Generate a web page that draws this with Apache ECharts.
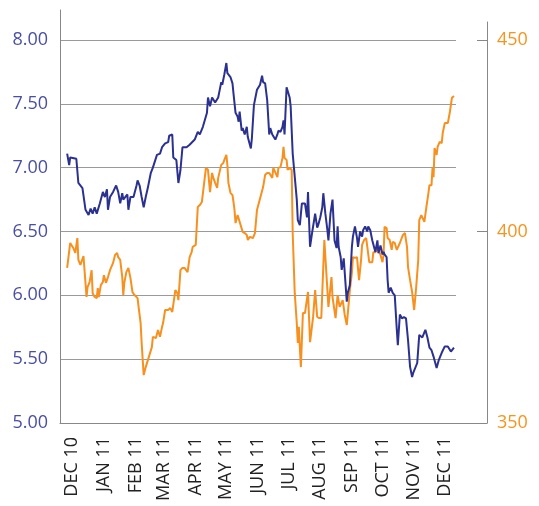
<!DOCTYPE html>
<html><head><meta charset="utf-8">
<script src="https://cdn.jsdelivr.net/npm/echarts@6/dist/echarts.min.js"></script>
<style>html,body{margin:0;padding:0;background:#fff}#c{width:539px;height:506px}</style>
</head><body><div id="c"></div>
<script>
const monthTicks = ['2010-12-01','2011-01-01','2011-02-01','2011-03-01','2011-04-01','2011-05-01','2011-06-01','2011-07-01','2011-08-01','2011-09-01','2011-10-01','2011-11-01','2011-12-01'];
const monthLabels = ['DEC 10','JAN 11','FEB 11','MAR 11','APR 11','MAY 11','JUN 11','JUL 11','AUG 11','SEP 11','OCT 11','NOV 11','DEC 11'];
const leftTicks = [5, 5.5, 6, 6.5, 7, 7.5, 8];
const rightLabelValues = [350, 400, 450];
const rightTickValues = [400, 450];

const navyDates = ['2010-11-26','2010-11-28','2010-11-29','2010-12-05','2010-12-07','2010-12-11','2010-12-14','2010-12-17','2010-12-19','2010-12-21','2010-12-23','2010-12-25','2010-12-28','2010-12-31',
'2011-01-02','2011-01-04','2011-01-05','2011-01-07','2011-01-10','2011-01-13','2011-01-15','2011-01-17','2011-01-19','2011-01-20','2011-01-24','2011-01-25','2011-01-27','2011-01-30',
'2011-02-02','2011-02-03','2011-02-05','2011-02-07','2011-02-09','2011-02-11','2011-02-13','2011-02-16','2011-02-18','2011-02-22','2011-02-25','2011-02-27',
'2011-03-02','2011-03-05','2011-03-06','2011-03-09','2011-03-10','2011-03-13','2011-03-15','2011-03-17','2011-03-19','2011-03-23','2011-03-26','2011-03-31',
'2011-04-03','2011-04-05','2011-04-08','2011-04-12','2011-04-13','2011-04-15','2011-04-17','2011-04-20','2011-04-23','2011-04-24','2011-04-26','2011-04-27','2011-04-29',
'2011-05-01','2011-05-02','2011-05-03','2011-05-05','2011-05-07','2011-05-08','2011-05-10','2011-05-12','2011-05-13','2011-05-14','2011-05-16','2011-05-17','2011-05-19','2011-05-21','2011-05-22','2011-05-25','2011-05-26','2011-05-28','2011-05-31',
'2011-06-03','2011-06-05','2011-06-06','2011-06-08','2011-06-10','2011-06-12','2011-06-13','2011-06-15','2011-06-18','2011-06-20','2011-06-21','2011-06-23','2011-06-25','2011-06-26','2011-06-27','2011-06-29',
'2011-07-02','2011-07-03','2011-07-05','2011-07-07','2011-07-09','2011-07-10','2011-07-12','2011-07-14','2011-07-17','2011-07-19','2011-07-20','2011-07-22','2011-07-24','2011-07-27','2011-07-29','2011-07-30',
'2011-08-01','2011-08-03','2011-08-04','2011-08-06','2011-08-08','2011-08-09','2011-08-11','2011-08-13','2011-08-15','2011-08-17','2011-08-18','2011-08-19','2011-08-21','2011-08-22','2011-08-24','2011-08-25','2011-08-27','2011-08-28','2011-08-30',
'2011-09-01','2011-09-02','2011-09-04','2011-09-06','2011-09-07','2011-09-09','2011-09-11','2011-09-12','2011-09-14','2011-09-16','2011-09-17','2011-09-19','2011-09-21','2011-09-22','2011-09-24','2011-09-26','2011-09-27','2011-09-29',
'2011-10-01','2011-10-02','2011-10-03','2011-10-05','2011-10-06','2011-10-07','2011-10-09','2011-10-11','2011-10-13','2011-10-15','2011-10-16','2011-10-17','2011-10-18','2011-10-20','2011-10-22','2011-10-24','2011-10-26','2011-10-28','2011-10-30','2011-10-31',
'2011-11-04','2011-11-06','2011-11-09','2011-11-12','2011-11-14','2011-11-16','2011-11-18','2011-11-20','2011-11-23','2011-11-25','2011-11-28',
'2011-12-01','2011-12-04','2011-12-07','2011-12-10'];
const navyValues = [7.11,7.02,7.08,7.07,6.88,6.84,6.67,6.63,6.68,6.64,6.69,6.64,6.72,6.81,
6.77,6.83,6.67,6.77,6.81,6.86,6.81,6.72,6.80,6.75,6.79,6.67,6.77,6.77,
6.86,6.90,6.86,6.77,6.69,6.77,6.84,6.96,7.00,7.10,7.11,7.16,
7.19,7.20,7.25,7.26,7.08,7.06,6.88,6.98,7.16,7.16,7.18,7.22,
7.28,7.26,7.32,7.43,7.55,7.48,7.55,7.51,7.55,7.59,7.67,7.65,7.73,
7.82,7.74,7.75,7.71,7.66,7.58,7.43,7.40,7.36,7.44,7.29,7.31,7.26,7.32,7.24,7.15,7.23,7.49,7.61,
7.65,7.72,7.67,7.66,7.53,7.26,7.31,7.26,7.22,7.26,7.29,7.28,7.32,7.37,7.26,7.63,
7.55,7.48,7.11,6.93,6.75,6.59,6.55,6.72,6.72,6.61,6.81,6.38,6.49,6.64,6.53,6.55,
6.61,6.69,6.80,6.64,6.51,6.43,6.64,6.75,6.43,6.37,6.54,6.38,6.30,6.20,6.29,6.28,5.95,6.02,6.08,
6.38,6.46,6.54,6.45,6.38,6.50,6.46,6.51,6.54,6.50,6.54,6.51,6.43,6.42,6.34,6.43,6.33,6.39,
6.32,6.34,6.32,6.30,6.12,6.02,6.06,6.02,6.00,5.73,5.61,5.61,5.85,5.82,5.83,5.82,5.65,5.44,5.36,5.39,
5.47,5.69,5.67,5.73,5.67,5.59,5.57,5.52,5.43,5.49,5.55,
5.60,5.60,5.56,5.59];

const orangeDates = ['2010-11-26','2010-11-29','2010-12-02','2010-12-04','2010-12-06','2010-12-07','2010-12-09','2010-12-12','2010-12-15','2010-12-16','2010-12-18','2010-12-20','2010-12-21','2010-12-23','2010-12-25','2010-12-26','2010-12-27','2010-12-29','2010-12-31',
'2011-01-01','2011-01-03','2011-01-05','2011-01-07','2011-01-10','2011-01-12','2011-01-14','2011-01-15','2011-01-17','2011-01-19','2011-01-20','2011-01-21','2011-01-23','2011-01-25','2011-01-27','2011-01-29','2011-01-31',
'2011-02-03','2011-02-04','2011-02-06','2011-02-07','2011-02-09','2011-02-11','2011-02-12','2011-02-14','2011-02-17','2011-02-18','2011-02-21','2011-02-23','2011-02-25','2011-02-27','2011-02-28',
'2011-03-02','2011-03-05','2011-03-07','2011-03-09','2011-03-12','2011-03-14','2011-03-15','2011-03-17','2011-03-19','2011-03-21','2011-03-24','2011-03-26','2011-03-28','2011-03-29',
'2011-04-01','2011-04-03','2011-04-05','2011-04-07','2011-04-11','2011-04-13','2011-04-15','2011-04-17','2011-04-18','2011-04-20','2011-04-22','2011-04-23','2011-04-26','2011-04-28','2011-04-29',
'2011-05-01','2011-05-02','2011-05-03','2011-05-05','2011-05-07','2011-05-08','2011-05-09','2011-05-10','2011-05-12','2011-05-13','2011-05-17','2011-05-19','2011-05-21','2011-05-22','2011-05-24','2011-05-27','2011-05-29','2011-05-31',
'2011-06-01','2011-06-06','2011-06-08','2011-06-10','2011-06-12','2011-06-15','2011-06-16','2011-06-20','2011-06-21','2011-06-23','2011-06-25','2011-06-26','2011-06-27','2011-06-29','2011-06-30',
'2011-07-02','2011-07-04','2011-07-05','2011-07-07','2011-07-09','2011-07-10','2011-07-11','2011-07-13','2011-07-15','2011-07-17','2011-07-20','2011-07-22','2011-07-25','2011-07-27','2011-07-29','2011-07-31',
'2011-08-02','2011-08-05','2011-08-09','2011-08-10','2011-08-12','2011-08-13','2011-08-16','2011-08-18','2011-08-20','2011-08-23','2011-08-25','2011-08-27','2011-08-30',
'2011-09-01','2011-09-02','2011-09-04','2011-09-06','2011-09-08','2011-09-10','2011-09-11','2011-09-13','2011-09-15','2011-09-18','2011-09-21','2011-09-22','2011-09-24','2011-09-27',
'2011-10-01','2011-10-02','2011-10-03','2011-10-05','2011-10-06','2011-10-08','2011-10-10','2011-10-11','2011-10-13','2011-10-15','2011-10-18','2011-10-21','2011-10-23','2011-10-25','2011-10-26','2011-10-28','2011-10-30',
'2011-11-01','2011-11-03','2011-11-05','2011-11-06','2011-11-08','2011-11-09','2011-11-11','2011-11-13','2011-11-15','2011-11-16','2011-11-18','2011-11-19','2011-11-20','2011-11-21','2011-11-23','2011-11-24','2011-11-26','2011-11-28','2011-11-29',
'2011-12-01','2011-12-04','2011-12-06','2011-12-08','2011-12-10'];
const orangeValues = [390.5,397.0,395.7,394.4,398.3,392.6,391.3,393.6,382.9,385.5,386.8,389.9,383.9,382.9,382.6,385.2,382.9,386.0,386.8,
388.6,386.6,388.1,389.9,391.8,393.9,394.4,393.3,392.6,388.1,383.4,386.6,389.4,390.5,387.9,384.2,383.4,
382.6,380.3,376.1,370.9,362.5,364.6,364.4,367.2,369.8,372.5,372.2,374.3,372.5,375.1,376.1,
379.5,379.5,380.0,379.0,384.7,383.9,382.1,389.9,390.5,390.5,389.4,393.3,394.6,396.0,
396.5,406.4,406.9,407.7,416.6,416.1,410.3,415.3,414.2,412.7,411.4,414.0,417.4,417.9,418.7,
420.0,417.4,412.7,410.1,409.5,407.7,405.6,402.2,404.3,404.8,399.9,399.6,399.1,397.8,398.6,398.3,399.6,405.6,
406.1,411.6,414.8,415.3,415.3,414.0,416.6,414.2,416.6,416.8,419.2,422.1,419.2,418.7,416.1,
416.6,416.1,399.6,383.9,376.1,370.9,375.1,364.6,378.7,378.7,384.2,371.1,377.7,384.7,377.7,377.4,
377.4,397.8,380.3,380.0,388.1,382.9,377.4,383.4,380.3,382.1,378.2,375.6,384.7,
389.2,393.3,393.1,393.3,387.3,392.6,396.5,397.8,398.3,392.0,392.0,394.6,394.6,395.7,
392.0,393.9,401.2,400.9,398.3,397.8,395.2,397.3,397.0,395.2,397.0,399.1,399.6,396.0,390.7,387.3,384.2,
379.5,385.5,392.6,403.0,404.3,404.3,402.5,406.4,410.1,412.1,412.1,416.6,414.2,421.8,420.0,422.1,423.4,423.1,425.7,
428.3,428.3,431.2,434.9,435.4];

function ts(s){ const p = s.split('-').map(Number); return Date.UTC(p[0], p[1]-1, p[2]); }
const monthTs = monthTicks.map(ts);
const navyData = navyDates.map((d,i)=>[ts(d), navyValues[i]]);
const orangeData = orangeDates.map((d,i)=>[ts(d), orangeValues[i]]);

const FONT = 'Open Sans';
const chart = echarts.init(document.getElementById('c'), null, {renderer:'canvas'});
chart.setOption({
  backgroundColor: '#ffffff',
  animation: false,
  grid: [
    {left: 60, right: 83, top: 40, bottom: 83},
    {left: 60, right: 52, top: 10, bottom: 83},
    {left: 60, right: 52, top: 22, bottom: 83}
  ],
  xAxis: [
    {gridIndex: 0, type: 'value', min: ts('2010-11-19'), max: ts('2011-12-12'),
     axisLine: {show: false}, axisTick: {show: false}, splitLine: {show: false},
     axisLabel: {customValues: monthTs, rotate: 90, margin: 14, color: '#222', fontSize: 18, fontFamily: FONT,
       formatter: function(v){ for (let i=0;i<monthTs.length;i++){ if (Math.abs(monthTs[i]-v) < 43200000) return monthLabels[i]; } return ''; }}},
    {gridIndex: 1, type: 'value', min: 0, max: 1, axisLine: {show: true, onZero: false, lineStyle: {color: '#888', width: 1}},
     axisTick: {show: false}, axisLabel: {show: false}, splitLine: {show: false}},
    {gridIndex: 2, type: 'value', min: 0, max: 1, show: false}
  ],
  yAxis: [
    {gridIndex: 0, type: 'value', min: 5, max: 8, interval: 0.5, position: 'left',
     axisLine: {show: false}, axisTick: {show: false},
     splitLine: {show: true, lineStyle: {color: '#9a9a9a', width: 1}},
     axisLabel: {margin: 12, color: '#4a4fa3', fontSize: 18, fontFamily: FONT, formatter: v => v.toFixed(2)}},
    {gridIndex: 0, type: 'value', min: 350, max: 450, interval: 50, show: false},
    {gridIndex: 1, type: 'value', min: 0, max: 1, position: 'left',
     axisLine: {show: true, onZero: false, lineStyle: {color: '#888', width: 1}}, axisTick: {show: false}, axisLabel: {show: false}, splitLine: {show: false}},
    {gridIndex: 2, type: 'value', min: 350, max: 454.7, interval: 50, position: 'right',
     axisLine: {show: true, onZero: false, lineStyle: {color: '#888', width: 1}},
     axisTick: {show: true, inside: true, length: 10, customValues: rightTickValues, lineStyle: {color: '#888'}},
     splitLine: {show: false},
     axisLabel: {customValues: rightLabelValues, margin: 10, color: '#f7941d', fontSize: 18, fontFamily: FONT}}
  ],
  series: [
    {type: 'line', xAxisIndex: 0, yAxisIndex: 1, data: orangeData, showSymbol: false, symbol: 'none',
     lineStyle: {color: '#f7901e', width: 2}, z: 2},
    {type: 'line', xAxisIndex: 0, yAxisIndex: 0, data: navyData, showSymbol: false, symbol: 'none',
     lineStyle: {color: '#2b3190', width: 2}, z: 3}
  ]
});
</script>
</body></html>
